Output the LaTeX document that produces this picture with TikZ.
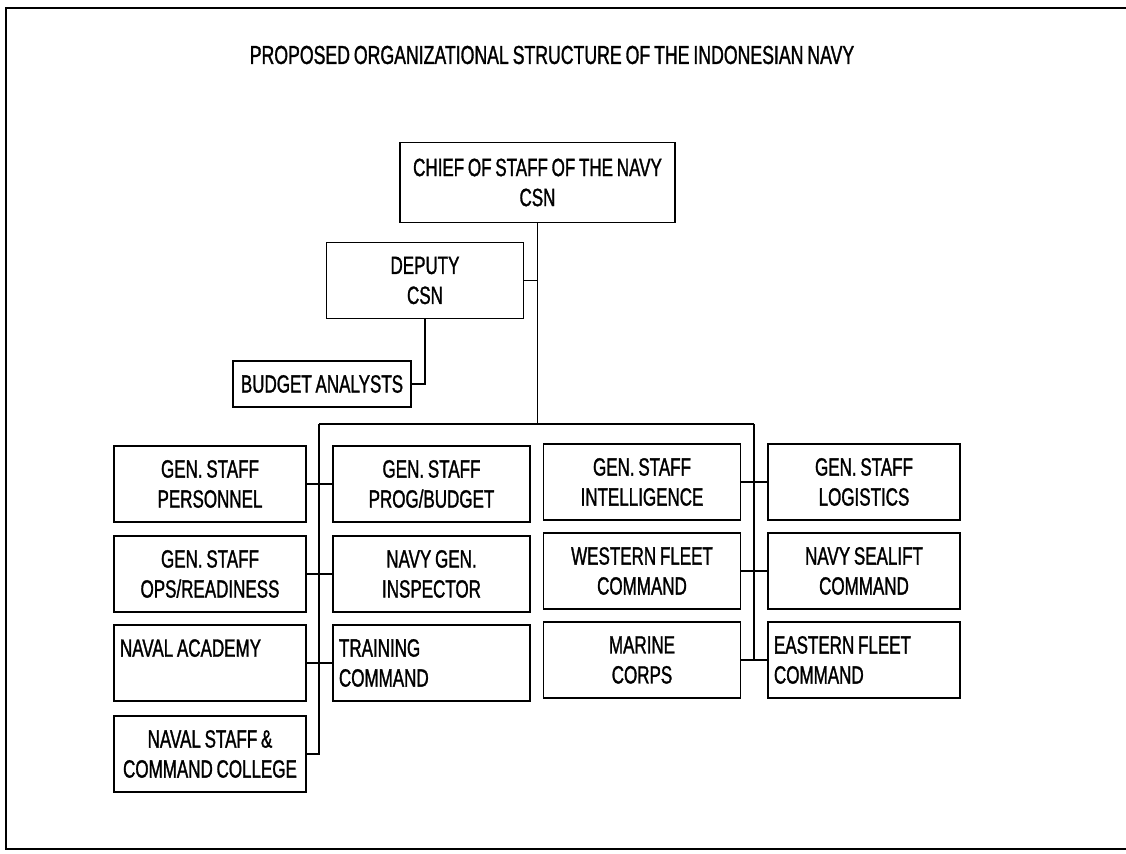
\documentclass[tikz,border=0pt]{standalone}
\usepackage{fontspec}
\setmainfont{Liberation Sans}[FakeStretch=0.68,WordSpace=0.8,FakeBold=1.2]
\begin{document}
\begin{tikzpicture}[x=0.5pt,y=-0.5pt,
  unit/.style={draw,line width=0.9pt,inner xsep=3pt,inner ysep=0pt,
    minimum height=38pt,text width=90pt,align=flush center,
    font=\fontsize{12.5}{15}\selectfont},
  wide/.style={text width=92.5pt},
  lft/.style={align=flush left},
  link/.style={line width=0.9pt}]
\useasboundingbox (0,0) rectangle (1126,854);
\draw[line width=1.2pt](1126,8)--(6,8)--(6,849)--(1126,849);
\node[font=\fontsize{13}{16}\selectfont] (title) at (552,55)
  {PROPOSED ORGANIZATIONAL STRUCTURE OF THE INDONESIAN NAVY};
%
\node[unit,text width=131.5pt,minimum height=40pt] (csn) at (537.5,182.5)
  {CHIEF OF STAFF OF THE NAVY\\CSN};
\node[unit,wide] (dep) at (425,280.5) {DEPUTY\\CSN};
\node[unit,text width=83pt,minimum height=23pt] (budget) at (322,384)
  {BUDGET ANALYSTS};
%
\node[unit] (pers) at (210,484) {GEN. STAFF\\PERSONNEL};
\node[unit] (ops) at (210,574) {GEN. STAFF\\OPS/READINESS};
\node[unit,lft] (acad) at (210,663) {NAVAL ACADEMY\\\mbox{}};
\node[unit] (coll) at (210,754) {NAVAL STAFF \&\\COMMAND COLLEGE};
%
\node[unit,wide] (prog) at (431.5,484) {GEN. STAFF\\PROG/BUDGET};
\node[unit,wide] (insp) at (431.5,574) {NAVY GEN.\\INSPECTOR};
\node[unit,wide,lft] (train) at (431.5,663) {TRAINING\\COMMAND};
%
\node[unit,wide] (intel) at (642,482) {GEN. STAFF\\INTELLIGENCE};
\node[unit,wide] (west) at (642,571) {WESTERN FLEET\\COMMAND};
\node[unit,wide] (marine) at (642,660) {MARINE\\CORPS};
%
\node[unit] (logi) at (864,482) {GEN. STAFF\\LOGISTICS};
\node[unit] (seal) at (864,571) {NAVY SEALIFT\\COMMAND};
\node[unit,lft] (east) at (864,660) {EASTERN FLEET\\COMMAND};
%
\coordinate (busl) at (319,424);
\coordinate (busr) at (754,424);
\draw[link](csn.south)--(csn.south|-busl);
\draw[link](dep.east)--(dep.east-|csn.south);
\draw[link](dep.south)|-(budget.east);
\draw[link](busl)--(busr);
\draw[link](busl)|-(coll.east);
\draw[link](busr)|-(marine.east);
%
\draw[link](pers.east)--(prog.west);
\draw[link](ops.east)--(insp.west);
\draw[link](acad.east)--(train.west);
\draw[link](intel.east)--(logi.west);
\draw[link](west.east)--(seal.west);
\draw[link](marine.east)--(east.west);
\end{tikzpicture}
\end{document}
